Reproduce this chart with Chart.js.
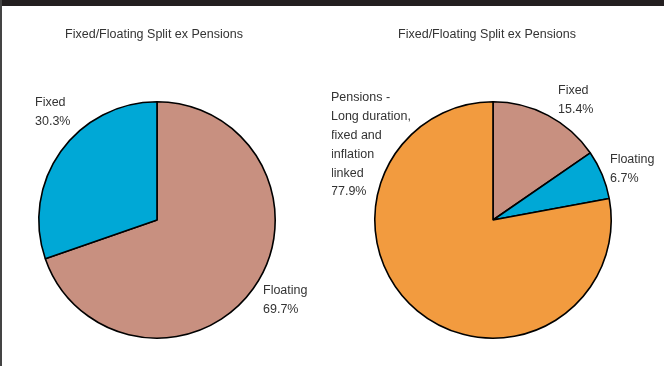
<!DOCTYPE html>
<html>
<head>
<meta charset="utf-8">
<script src="https://cdn.jsdelivr.net/npm/chart.js@4.4.0/dist/chart.umd.min.js"></script>
<style>
    body { margin: 0; background: #fff; }
    #wrap { position: relative; width: 664px; height: 366px; background: #fff; overflow: hidden; }
    #topbar { position: absolute; left: 0; top: 0; width: 664px; height: 6px; background: #231f20; }
    #leftline { position: absolute; left: 0; top: 0; width: 2px; height: 366px; background: #444; }
    canvas { position: absolute; top: 0; }
    #c1 { left: 0; }
    #c2 { left: 332px; }
</style>
</head>
<body>
<div id="wrap">
    <canvas id="c1" width="332" height="366"></canvas>
    <canvas id="c2" width="332" height="366"></canvas>
    <div id="topbar"></div>
    <div id="leftline"></div>
</div>
<script>
// Left pie: split excluding pensions
const leftTitle = 'Fixed/Floating Split ex Pensions';
const leftLabels = ['Floating', 'Fixed'];
const leftValues = [69.7, 30.3];
const leftColors = ['#c89080', '#00a8d6'];

// Right pie: including pensions
const rightTitle = 'Fixed/Floating Split ex Pensions';
const rightLabels = ['Fixed', 'Floating', 'Pensions - Long duration, fixed and inflation linked'];
const rightValues = [15.4, 6.7, 77.9];
const rightColors = ['#c89080', '#00a8d6', '#f29b3f'];

const FONT = '"Liberation Sans Narrow", "Arial Narrow", "Liberation Sans", Arial, sans-serif';

// label text lines and anchor offsets from the pie centre
const leftLabelText = [
    { lines: ['Floating', '69.7%'], dx: 106, dy: 71 },
    { lines: ['Fixed', '30.3%'], dx: -122, dy: -117 }
];
const rightLabelText = [
    { lines: ['Fixed', '15.4%'], dx: 65, dy: -129 },
    { lines: ['Floating', '6.7%'], dx: 117, dy: -60 },
    { lines: ['Pensions -', 'Long duration,', 'fixed and', 'inflation', 'linked', '77.9%'], dx: -162, dy: -122 }
];

const sliceLabels = {
    id: 'sliceLabels',
    afterDraw(chart, args, opts) {
        const ctx = chart.ctx;
        const arc = chart.getDatasetMeta(0).data[0];
        const cx = arc.x, cy = arc.y;
        ctx.save();
        ctx.fillStyle = '#333';
        ctx.font = '12.5px ' + FONT;
        ctx.textAlign = 'left';
        ctx.textBaseline = 'middle';
        opts.items.forEach(item => {
            item.lines.forEach((line, i) => {
                ctx.fillText(line, cx + item.dx, cy + item.dy + i * 18.8);
            });
        });
        // title
        ctx.font = '12.5px ' + FONT;
        ctx.textAlign = 'center';
        ctx.fillText(opts.title, cx + opts.titleDx, 35);
        ctx.restore();
    }
};

function makePie(id, labels, values, colors, items, title, titleDx, padding) {
    return new Chart(document.getElementById(id), {
        type: 'pie',
        data: {
            labels: labels,
            datasets: [{
                data: values,
                backgroundColor: colors,
                borderColor: '#000',
                borderWidth: 1.6
            }]
        },
        options: {
            responsive: false,
            animation: false,
            layout: { padding: padding },
            plugins: {
                legend: { display: false },
                tooltip: { enabled: false },
                sliceLabels: { items: items, title: title, titleDx: titleDx }
            }
        },
        plugins: [sliceLabels]
    });
}

makePie('c1', leftLabels, leftValues, leftColors, leftLabelText, leftTitle, -3,
    { left: 38, right: 56, top: 101, bottom: 27 });
makePie('c2', rightLabels, rightValues, rightColors, rightLabelText, rightTitle, -6,
    { left: 42, right: 52, top: 101, bottom: 27 });
</script>
</body>
</html>
